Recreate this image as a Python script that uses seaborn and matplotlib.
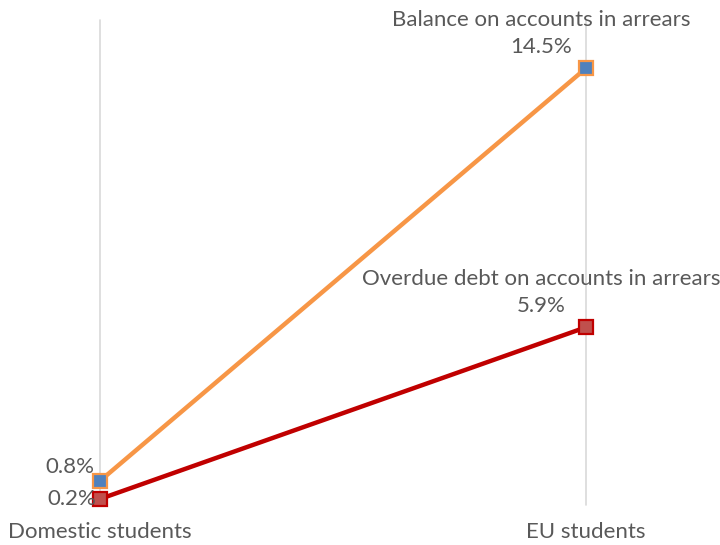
import matplotlib
matplotlib.use("Agg")
import matplotlib.pyplot as plt
import seaborn as sns

# Share of accounts in arrears, by student group
categories = ["Domestic students", "EU students"]
balance_name = "Balance on accounts in arrears"
balance = [0.8, 14.5]
overdue_name = "Overdue debt on accounts in arrears"
overdue = [0.2, 5.9]

sns.set_theme(style="white")
plt.rcParams["font.family"] = ["Lato", "DejaVu Sans"]
text_color = "#595959"
fs = 16

fig = plt.figure(figsize=(7.2, 5.45), dpi=100)
ax = fig.add_axes([100 / 720, 40 / 545, 486 / 720, 485 / 545])

series = [
    (balance_name, balance, "#f79646", "#4f81bd", "#f79646"),
    (overdue_name, overdue, "#c00000", "#c0504d", "#c00000"),
]
for name, vals, line_c, face_c, edge_c in series:
    sns.lineplot(x=categories, y=vals, ax=ax, color=line_c, linewidth=3.2,
                 marker="s", markersize=10, markerfacecolor=face_c,
                 markeredgecolor=edge_c, markeredgewidth=1.6, clip_on=False,
                 zorder=3)

ax.set_xlim(0, 1)
ax.set_ylim(0, 16.1)
ax.set_yticks([])
ax.set_xticks([0, 1])
ax.set_xticklabels(categories, fontsize=fs, color=text_color)
ax.tick_params(axis="x", length=0, pad=12)
ax.xaxis.grid(True, color="#d9d9d9", linewidth=1.2)
for gl in ax.get_xgridlines():
    gl.set_clip_on(False)
ax.yaxis.grid(False)
for s in ax.spines.values():
    s.set_visible(False)

# Value labels at the left end
ax.annotate(f"{balance[0]:.1f}%", (0, balance[0]), xytext=(-4, 10),
            textcoords="offset points", ha="right", va="center",
            fontsize=fs, color=text_color)
ax.annotate(f"{overdue[0]:.1f}%", (0, overdue[0]), xytext=(-3, 0),
            textcoords="offset points", ha="right", va="center",
            fontsize=fs, color=text_color)

# Series name and value above the right end
for name, vals, *_ in series:
    ax.annotate(f"{vals[1]:.1f}%", (1, vals[1]), xytext=(-32, 15),
                textcoords="offset points", ha="center", va="center",
                fontsize=fs, color=text_color)
    ax.annotate(name, (1, vals[1]), xytext=(-32, 35),
                textcoords="offset points", ha="center", va="center",
                fontsize=fs, color=text_color)

ax.set_xlabel("")
ax.set_ylabel("")
fig.savefig("out.png", dpi=100)
